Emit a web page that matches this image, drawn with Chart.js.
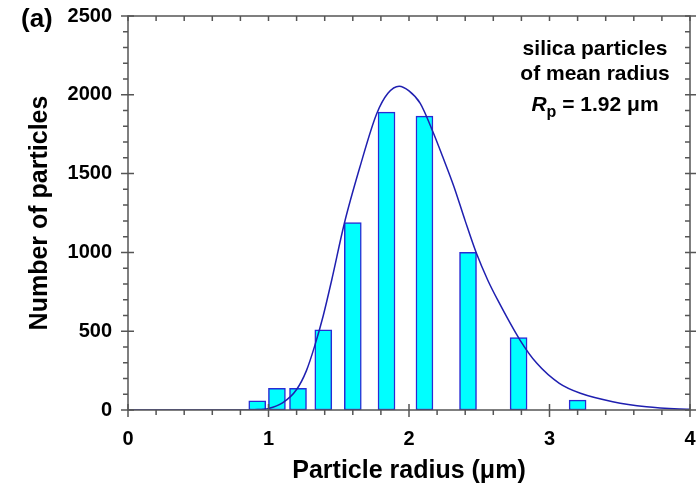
<!DOCTYPE html>
<html>
<head>
<meta charset="utf-8">
<script src="https://cdn.jsdelivr.net/npm/chart.js@4.4.1/dist/chart.umd.min.js"></script>
<style>
  html, body { margin: 0; padding: 0; background: #fff; }
  #wrap { width: 697px; height: 491px; }
</style>
</head>
<body>
<div id="wrap"><canvas id="chart"></canvas></div>
<script>
// histogram bars (bin centre in um, count)
const binCentres = [0.92, 1.06, 1.21, 1.39, 1.60, 1.84, 2.11, 2.42, 2.78, 3.20];
const binCounts  = [58, 138, 138, 508, 1190, 1890, 1865, 1000, 460, 63];

// fitted distribution curve
const curveX = [0, 0.5, 0.8, 0.9, 1.0, 1.1, 1.2, 1.27, 1.33, 1.39, 1.45, 1.54, 1.65, 1.77, 1.85,
                1.93, 2.0, 2.08, 2.17, 2.24, 2.32, 2.40, 2.48, 2.56, 2.63, 2.79, 2.91, 3.07,
                3.22, 3.45, 3.69, 3.93, 4.0];
const curveY = [0, 0, 0, 2, 10, 45, 130, 250, 410, 600, 825, 1185, 1540, 1880, 2010,
                2055, 2025, 1946, 1766, 1607, 1417, 1200, 994, 825, 700, 444, 296, 169,
                106, 53, 21, 6, 4];

const xTicks = [0, 1, 2, 3, 4];
const yTicks = [0, 500, 1000, 1500, 2000, 2500];
const noteLines = ["silica particles", "of mean radius"];

const FONT = "'Liberation Sans', Arial, sans-serif";
const axisColor = "#555555";

function noPad(scale) {
    scale.paddingTop = 0;
    scale.paddingBottom = 0;
    scale.paddingLeft = 0;
    scale.paddingRight = 0;
}

// frame with minor / major tick marks on all four sides
const framePlugin = {
    id: "frame",
    afterDatasetsDraw(chart) {
        const { ctx, chartArea: a, scales: { x, y } } = chart;
        ctx.save();
        ctx.strokeStyle = axisColor;
        ctx.lineWidth = 1.5;
        ctx.strokeRect(a.left, a.top, a.right - a.left, a.bottom - a.top);
        ctx.beginPath();
        for (let i = 0; i <= 20; i++) {
            const px = x.getPixelForValue(i * 0.2);
            const major = i % 5 === 0;
            // bottom
            ctx.moveTo(px, major ? a.bottom - 6 : a.bottom);
            ctx.lineTo(px, a.bottom + (major ? 7 : 5));
            // top
            ctx.moveTo(px, a.top);
            ctx.lineTo(px, a.top + 5);
        }
        for (let i = 0; i <= 25; i++) {
            const py = y.getPixelForValue(i * 100);
            const major = i % 5 === 0;
            // left
            ctx.moveTo(a.left - (major ? 7 : 5), py);
            ctx.lineTo(major ? a.left + 6 : a.left, py);
            // right
            ctx.moveTo(a.right - 5, py);
            ctx.lineTo(major ? a.right + 6 : a.right, py);
        }
        ctx.stroke();

        // panel label
        ctx.fillStyle = "#000";
        ctx.font = "bold 26px " + FONT;
        ctx.textAlign = "left";
        ctx.textBaseline = "alphabetic";
        ctx.fillText("(a)", 21, 27);

        // annotation
        const cx = 595;
        ctx.font = "bold 21px " + FONT;
        ctx.textAlign = "center";
        ctx.fillText(noteLines[0], cx, 55);
        ctx.fillText(noteLines[1], cx, 80);

        const partR = "R", partP = "p", rest = " = 1.92 \u03bcm";
        ctx.font = "italic bold 21px " + FONT;
        const wR = ctx.measureText(partR).width;
        ctx.font = "bold 16px " + FONT;
        const wP = ctx.measureText(partP).width;
        ctx.font = "bold 21px " + FONT;
        const wRest = ctx.measureText(rest).width;
        let sx = cx - (wR + wP + wRest) / 2;
        ctx.textAlign = "left";
        ctx.font = "italic bold 21px " + FONT;
        ctx.fillText(partR, sx, 111);
        sx += wR;
        ctx.font = "bold 16px " + FONT;
        ctx.fillText(partP, sx, 117);
        sx += wP;
        ctx.font = "bold 21px " + FONT;
        ctx.fillText(rest, sx, 111);
        ctx.restore();
    }
};

new Chart(document.getElementById("chart"), {
    data: {
        datasets: [
            {
                type: "line",
                label: "fit",
                data: curveX.map((v, i) => ({ x: v, y: curveY[i] })),
                borderColor: "#1f1fb0",
                borderWidth: 1.5,
                pointRadius: 0,
                cubicInterpolationMode: "monotone",
                order: 0
            },
            {
                type: "bar",
                label: "particles",
                data: binCentres.map((v, i) => ({ x: v, y: binCounts[i] })),
                backgroundColor: "#00ffff",
                borderColor: "#2a2ad4",
                borderWidth: 1.5,
                borderSkipped: false,
                barThickness: 17,
                order: 1
            }
        ]
    },
    options: {
        responsive: true,
        maintainAspectRatio: false,
        animation: false,
        layout: { padding: { top: 16, right: 7, left: 0, bottom: 0 } },
        plugins: {
            legend: { display: false },
            tooltip: { enabled: false }
        },
        scales: {
            x: {
                type: "linear",
                min: 0,
                max: 4,
                offset: false,
                afterFit(scale) { scale.height = 81; noPad(scale); },
                afterBuildTicks(scale) { scale.ticks = xTicks.map(v => ({ value: v })); },
                grid: { display: false, drawTicks: false },
                border: { display: false },
                ticks: {
                    padding: 17,
                    maxRotation: 0,
                    autoSkip: false,
                    color: "#000",
                    callback: v => String(v),
                    font: { family: FONT, size: 20, weight: "bold" }
                },
                title: {
                    display: true,
                    text: "Particle radius (\u03bcm)",
                    color: "#000",
                    padding: { top: 0, bottom: 5 },
                    font: { family: FONT, size: 25, weight: "bold" }
                }
            },
            y: {
                min: 0,
                max: 2500,
                afterFit(scale) { scale.width = 128; noPad(scale); },
                afterBuildTicks(scale) { scale.ticks = yTicks.map(v => ({ value: v })); },
                grid: { display: false, drawTicks: false },
                border: { display: false },
                ticks: {
                    padding: 16,
                    color: "#000",
                    callback: v => String(v),
                    font: { family: FONT, size: 20, weight: "bold" }
                },
                title: {
                    display: true,
                    text: "Number of particles",
                    color: "#000",
                    padding: { top: 25, bottom: 0 },
                    font: { family: FONT, size: 25, weight: "bold" }
                }
            }
        }
    },
    plugins: [framePlugin]
});
</script>
</body>
</html>
